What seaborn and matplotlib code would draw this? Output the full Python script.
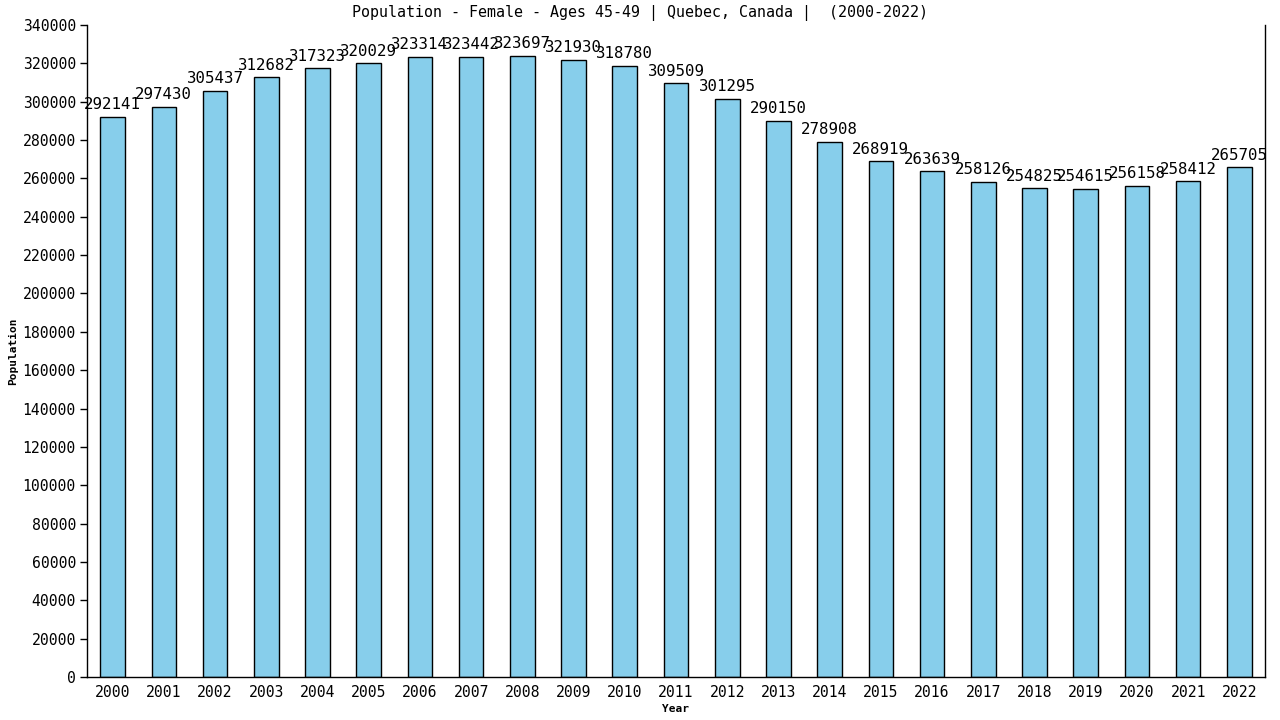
import matplotlib
matplotlib.use("Agg")
import matplotlib.pyplot as plt
import pandas as pd
import seaborn as sns

# Data
years = [str(y) for y in range(2000, 2023)]
population = [292141, 297430, 305437, 312682, 317323, 320029, 323314, 323442,
              323697, 321930, 318780, 309509, 301295, 290150, 278908, 268919,
              263639, 258126, 254825, 254615, 256158, 258412, 265705]
y_ticks = list(range(0, 340001, 20000))

df = pd.DataFrame({"Year": years, "Population": population})

sns.set_style("white")
plt.rcParams["font.family"] = ["DejaVu Sans Mono", "DejaVu Sans"]
plt.rcParams["text.color"] = "black"
plt.rcParams["axes.labelcolor"] = "black"
plt.rcParams["xtick.color"] = "black"
plt.rcParams["ytick.color"] = "black"

fig = plt.figure(figsize=(12.8, 7.2), dpi=100)
ax = fig.add_axes([87 / 1280, 43 / 720, (1265 - 87) / 1280, (677 - 25) / 720])

sns.barplot(x="Year", y="Population", data=df, color="#87CEEB",
            edgecolor="black", linewidth=1, width=0.48, saturation=1, ax=ax)

# value labels above the bars (neighbours overlap, as in the reference)
for i, v in enumerate(population):
    ax.text(i, v + 2500, str(v), ha="center", va="bottom", fontsize=11.3)

ax.set_xlim(-0.5, 22.5)
ax.set_ylim(0, 340000)
ax.set_yticks(y_ticks)
ax.set_yticklabels([str(t) for t in y_ticks], fontsize=10.6)
ax.tick_params(axis="x", labelsize=10.6, length=0, pad=6)
ax.tick_params(axis="y", length=5, width=1, color="black", left=True, pad=3)

for side in ["left", "bottom", "right"]:
    ax.spines[side].set_color("black")
    ax.spines[side].set_linewidth(1)
ax.spines["top"].set_visible(False)

ax.set_xlabel("Year", fontsize=8, fontweight="bold", labelpad=3)
ax.set_ylabel("Population", fontsize=8, fontweight="bold", labelpad=3)

# title centred on the figure, like the reference
fig.text(0.5, 1 - 13 / 720,
         "Population - Female - Ages 45-49 | Quebec, Canada |  (2000-2022)",
         ha="center", va="center", fontsize=10.8)

# Save Image
plt.savefig("out.png", dpi=100)
